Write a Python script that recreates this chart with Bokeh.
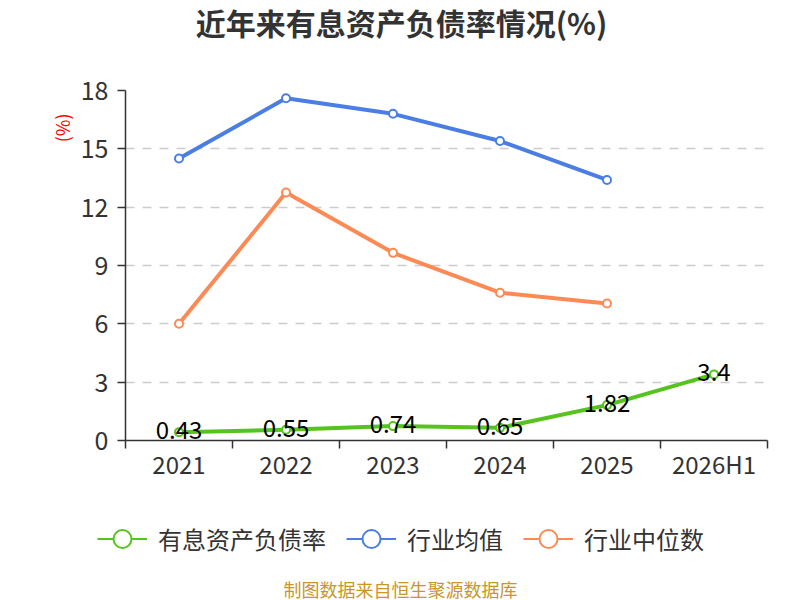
from bokeh.plotting import figure
from bokeh.models import (ColumnDataSource, FixedTicker, Range1d, Legend, LegendItem,
                          Label, Title)
from bokeh.layouts import column
from bokeh.core.properties import value
from bokeh.embed import file_html
from bokeh.resources import INLINE

categories = ["2021", "2022", "2023", "2024", "2025", "2026H1"]
debt_ratio = [0.43, 0.55, 0.74, 0.65, 1.82, 3.4]
industry_mean = [14.5, 17.6, 16.8, 15.4, 13.4]
industry_median = [6.0, 12.75, 9.65, 7.6, 7.05]
y_ticks = [0, 3, 6, 9, 12, 15, 18]
series_names = ["有息资产负债率", "行业均值", "行业中位数"]

FONT = "Noto Sans CJK SC"
GREEN = "#56c31f"
BLUE = "#4a7ee3"
ORANGE = "#fc8a55"
COLORS = [GREEN, BLUE, ORANGE]

xs = [i + 0.5 for i in range(len(categories))]


def strip(height):
    f = figure(width=800, height=height, output_backend="svg", toolbar_location=None,
               x_range=Range1d(0, 800), y_range=Range1d(0, height),
               x_axis_location=None, y_axis_location=None, min_border=0)
    if "frame_align" in f.properties():
        f.frame_align = False
    else:
        f.x_range = Range1d(125, 767)
    f.outline_line_color = None
    f.xgrid.grid_line_color = None
    f.ygrid.grid_line_color = None
    return f


# ---- title strip
t = strip(70)
t.add_layout(Label(x=401, y=49, text="近年来有息资产负债率情况(%)", text_align="center",
                   text_baseline="middle", text_font=FONT, text_font_size="30px",
                   text_font_style="bold", text_color="#333333"))

# ---- main chart
p = figure(width=800, height=430, output_backend="svg", toolbar_location=None,
           x_range=Range1d(0, len(categories)), y_range=Range1d(0, 18))
if "frame_align" in p.properties():
    p.frame_align = False
p.min_border_left = 125
p.min_border_right = 33
p.min_border_top = 20
p.min_border_bottom = 60
p.outline_line_color = None
p.background_fill_color = "white"
p.border_fill_color = "white"

xa = p.xaxis[0]
xa.ticker = FixedTicker(ticks=xs, minor_ticks=list(range(len(categories) + 1)))
xa.major_label_overrides = {x: c for x, c in zip(xs, categories)}
xa.major_tick_out = 0
xa.major_tick_in = 0
xa.minor_tick_out = 8
xa.minor_tick_in = 0
xa.minor_tick_line_color = "#333333"
xa.minor_tick_line_width = 1.5
xa.axis_line_color = "#333333"
xa.axis_line_width = 1.5
xa.major_label_text_font = FONT
xa.major_label_text_font_size = "24px"
xa.major_label_text_color = "#333333"
xa.major_label_standoff = -3

ya = p.yaxis[0]
ya.ticker = FixedTicker(ticks=y_ticks, minor_ticks=[])
ya.major_tick_out = 8
ya.major_tick_in = 0
ya.major_tick_line_color = "#333333"
ya.major_tick_line_width = 1.5
ya.axis_line_color = "#333333"
ya.axis_line_width = 1.5
ya.major_label_text_font = FONT
ya.major_label_text_font_size = "25px"
ya.major_label_text_color = "#333333"
ya.major_label_standoff = 9

unit = Title(text="(%)", align="right", offset=23, standoff=5, text_font=FONT,
             text_font_size="18px", text_font_style="normal", text_color="#ff0000")
p.add_layout(unit, "left")

p.xgrid.grid_line_color = None
p.ygrid.ticker = FixedTicker(ticks=y_ticks[1:])
p.ygrid.grid_line_color = "#cccccc"
p.ygrid.grid_line_width = 1.5
p.ygrid.grid_line_dash = "9 8"

src_g = ColumnDataSource(dict(x=xs, y=debt_ratio, t=[str(v) for v in debt_ratio]))
src_b = ColumnDataSource(dict(x=xs[:len(industry_mean)], y=industry_mean))
src_o = ColumnDataSource(dict(x=xs[:len(industry_median)], y=industry_median))
sources = [src_g, src_b, src_o]

for src, col in zip(sources, COLORS):
    p.line("x", "y", source=src, line_color=col, line_width=4)
    p.scatter("x", "y", source=src, marker="circle", size=8, fill_color="white",
              line_color=col, line_width=2)

p.text("x", "y", text="t", source=src_g, text_align="center", text_baseline="middle",
       text_font=value(FONT), text_font_size="24px", text_color="#000000", y_offset=-2)

# ---- bottom strip: legend + source note
q = strip(100)
# legend proxies: the series drawn on a range far outside the strip, so only the legend shows them
q.extra_y_ranges = {"offstage": Range1d(-2000, -1900)}
items = []
for name, col, src in zip(series_names, COLORS, sources):
    ll = q.line("x", "y", source=src, y_range_name="offstage", line_color=col, line_width=2)
    lc = q.scatter("x", "y", source=src, y_range_name="offstage", marker="circle",
                   fill_color="white", line_color=col, line_width=2)
    items.append(LegendItem(label=name, renderers=[ll, lc]))

x0 = q.x_range.start
legend = Legend(items=items, orientation="horizontal", location=(97 - x0, 39.5),
                label_text_font=FONT, label_text_font_size="24px",
                label_text_color="#333333", glyph_width=50, glyph_height=45,
                spacing=20, label_standoff=11, border_line_color=None,
                background_fill_alpha=0, padding=0, margin=0)
q.add_layout(legend, "center")

q.add_layout(Label(x=400, y=12, text="制图数据来自恒生聚源数据库", text_align="center",
                   text_baseline="middle", text_font=FONT, text_font_size="18px",
                   text_color="#c9962a"))

layout = column(t, p, q, spacing=0)
open("out.html", "w").write(file_html(layout, INLINE))
